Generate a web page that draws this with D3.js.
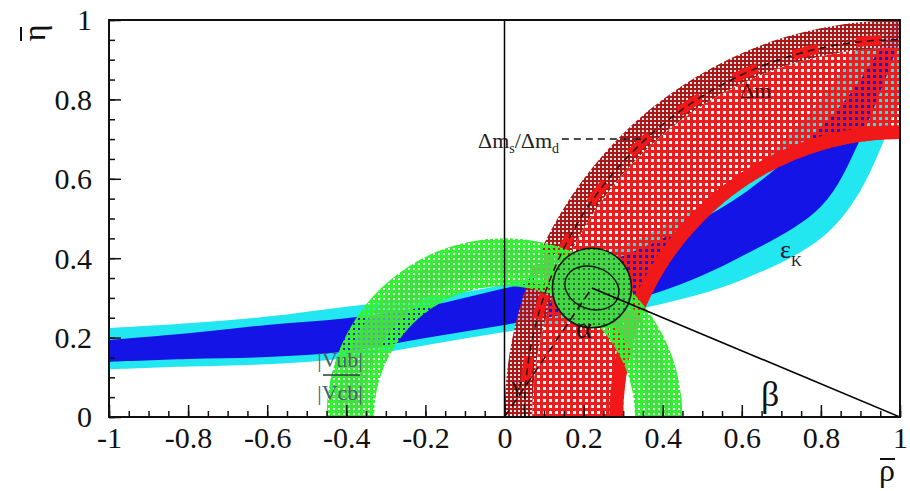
<!DOCTYPE html>
<html>
<head>
<meta charset="utf-8">
<style>
    body, html {
        margin: 0;
        padding: 0;
        background: #fff;
    }
    svg { display: block; }
    text { font-family: "Liberation Serif", "DejaVu Serif", serif; }
</style>
</head>
<body>
<svg width="910" height="491"></svg>

<script src="https://d3js.org/d3.v7.min.js"></script>
<script>
    // axis ticks
    var xTicks = [-1, -0.8, -0.6, -0.4, -0.2, 0, 0.2, 0.4, 0.6, 0.8, 1];
    var yTicks = [0, 0.2, 0.4, 0.6, 0.8, 1];

    // eps_K band (eta edges read along rho)
    var epsRho  = [-1,    -0.8,  -0.6,  -0.4,  -0.2,  0,     0.2,   0.4,   0.6,   0.8,   0.9,   1.0];
    var eps95Hi = [0.224, 0.236, 0.253, 0.278, 0.300, 0.334, 0.390, 0.480, 0.600, 0.800, 0.950, 1.100];
    var eps68Hi = [0.194, 0.211, 0.232, 0.249, 0.278, 0.324, 0.370, 0.450, 0.560, 0.730, 0.850, 1.020];
    var eps68Lo = [0.139, 0.146, 0.151, 0.165, 0.199, 0.232, 0.268, 0.318, 0.405, 0.530, 0.700, 0.950];
    var eps95Lo = [0.120, 0.127, 0.133, 0.148, 0.181, 0.214, 0.245, 0.285, 0.345, 0.450, 0.570, 0.800];

    // |Vub|/|Vcb| ring around (0,0)
    var vubCentre = [0, 0];
    var vub95 = [0.33, 0.45];
    var vub68 = [0.36, 0.425];

    // delta m_d ring around (1,0)
    var dmdCentre = [1, 0];
    var dmdBand  = [0.70, 0.93];
    var dmdOuter = [0.93, 1.00];
    var dmdEdge  = [0.70, 0.735];
    var dmsRadius = 0.95;
    var dmsLine = [0.145, 0.70];

    // fit result
    var apex = [0.221, 0.325];
    var cl95 = [0.100, 0.100];
    var cl68 = [0.070, 0.053];

    var svg = d3.select("svg");
    var x = d3.scaleLinear().domain([-1, 1]).range([109, 900]);
    var y = d3.scaleLinear().domain([0, 1]).range([417, 20]);

    var defs = svg.append("defs");
    defs.append("clipPath").attr("id", "plot")
        .append("rect").attr("x", 109).attr("y", 20).attr("width", 791).attr("height", 397);

    function checker(id, size, hole, fill, holeFill) {
        var p = defs.append("pattern").attr("id", id)
            .attr("patternUnits", "userSpaceOnUse")
            .attr("width", size).attr("height", size);
        p.append("path")
            .attr("d", "M0,0H" + size + "V" + (size - hole) + "H" + (size - hole) + "V" + size + "H0Z")
            .attr("fill", fill);
        if (holeFill) {
            p.append("rect").attr("x", size - hole).attr("y", size - hole)
                .attr("width", hole).attr("height", hole).attr("fill", holeFill);
        }
    }
    checker("redMain", 6, 3, "#ea1e1e");
    checker("redDark", 4, 2, "#a81a1a", "rgba(235,220,220,0.75)");
    checker("greenRing", 5, 2, "#36f036");
    checker("greenIn", 5, 2, "#40e040", "rgba(150,240,150,0.6)");
    checker("greenCl", 5, 2, "#44d644", "#2c6a3a");

    function ell(cx, cy, rx, ry) {
        return "M" + (cx - rx) + "," + cy +
            "A" + rx + "," + ry + " 0 1 0 " + (cx + rx) + "," + cy +
            "A" + rx + "," + ry + " 0 1 0 " + (cx - rx) + "," + cy + "Z";
    }
    function ring(c, r) {
        var cx = x(c[0]), cy = y(c[1]);
        return ell(cx, cy, x(r[1]) - x(0), y(0) - y(r[1])) +
            (r[0] > 0 ? ell(cx, cy, x(r[0]) - x(0), y(0) - y(r[0])) : "");
    }

    var g = svg.append("g").attr("clip-path", "url(#plot)");

    // EPS_K
    var band = function (lo, hi) {
        return d3.area()
            .x(function (d, i) { return x(epsRho[i]); })
            .y0(function (d, i) { return y(lo[i]); })
            .y1(function (d, i) { return y(hi[i]); })
            .curve(d3.curveCatmullRom)(epsRho);
    };
    g.append("path").attr("d", band(eps95Lo, eps95Hi)).attr("fill", "#22e6f0");
    g.append("path").attr("d", band(eps68Lo, eps68Hi)).attr("fill", "#1414e6");

    // DELTA M_D
    var dmdCx = x(dmdCentre[0]), dmdCy = y(dmdCentre[1]);
    g.append("path").attr("d", ring(dmdCentre, dmdBand)).attr("fill-rule", "evenodd").attr("fill", "url(#redMain)");
    g.append("path").attr("d", ring(dmdCentre, dmdOuter)).attr("fill-rule", "evenodd").attr("fill", "url(#redDark)");
    g.append("path").attr("d", ring(dmdCentre, dmdEdge)).attr("fill-rule", "evenodd").attr("fill", "#f01818");
    g.append("path").attr("d", ell(dmdCx, dmdCy, x(dmsRadius) - x(0), y(0) - y(dmsRadius)))
        .attr("fill", "none").attr("stroke", "#f01818").attr("stroke-width", 10)
        .attr("stroke-dasharray", "26 38");

    // |VUB|/|VCB|
    g.append("path").attr("d", ring(vubCentre, vub95)).attr("fill-rule", "evenodd").attr("fill", "url(#greenRing)");
    g.append("path").attr("d", ring(vubCentre, vub68)).attr("fill-rule", "evenodd").attr("fill", "url(#greenIn)");

    // FIT CONTOURS
    var ax = x(apex[0]), ay = y(apex[1]);
    g.append("path").attr("d", ell(ax, ay, x(cl95[0]) - x(0), y(0) - y(cl95[1])))
        .attr("fill", "url(#greenCl)").attr("stroke", "#0a1a0a").attr("stroke-width", 1.6);
    g.append("path").attr("d", ell(0, 0, x(cl68[0]) - x(0), y(0) - y(cl68[1])))
        .attr("transform", "translate(" + ax + "," + ay + ") rotate(20)")
        .attr("fill", "none").attr("stroke", "#0a1a0a").attr("stroke-width", 1.4);

    // DASHED LIMIT
    g.append("path").attr("d", ell(dmdCx, dmdCy, x(dmsRadius) - x(0), y(0) - y(dmsRadius)))
        .attr("fill", "none").attr("stroke", "#201010").attr("stroke-width", 1.5)
        .attr("stroke-dasharray", "7 5");
    var dmsEnd = dmdCentre[0] - Math.sqrt(dmsRadius * dmsRadius - dmsLine[1] * dmsLine[1]);
    g.append("line")
        .attr("x1", x(dmsLine[0])).attr("x2", x(dmsEnd))
        .attr("y1", y(dmsLine[1])).attr("y2", y(dmsLine[1]))
        .attr("stroke", "#111").attr("stroke-width", 1.5).attr("stroke-dasharray", "7 5");

    // TRIANGLE
    g.append("line").attr("x1", x(0)).attr("y1", y(0)).attr("x2", ax).attr("y2", ay)
        .attr("stroke", "#200").attr("stroke-width", 1.5).attr("stroke-dasharray", "8 5");
    g.append("line").attr("x1", ax).attr("y1", ay).attr("x2", x(1)).attr("y2", y(0))
        .attr("stroke", "#000").attr("stroke-width", 1.6);
    svg.append("line").attr("x1", x(0)).attr("x2", x(0)).attr("y1", y(0)).attr("y2", y(1))
        .attr("stroke", "#000").attr("stroke-width", 1.5);

    // AXES
    var minorX = d3.range(-1, 1.001, 0.05), minorY = d3.range(0, 1.001, 0.05);
    svg.append("g").attr("transform", "translate(0,417)")
        .call(d3.axisBottom(x).tickValues(minorX).tickSize(-6).tickFormat(""))
        .call(function (s) { s.select(".domain").remove(); });
    svg.append("g").attr("transform", "translate(109,0)")
        .call(d3.axisLeft(y).tickValues(minorY).tickSize(-6).tickFormat(""))
        .call(function (s) { s.select(".domain").remove(); });

    var xa = svg.append("g").attr("transform", "translate(0,417)")
        .call(d3.axisBottom(x).tickValues(xTicks).tickSize(-12).tickPadding(0)
            .tickFormat(function (d) { return String(d); }));
    xa.select(".domain").remove();
    xa.selectAll("text").attr("y", 31).attr("dy", 0).attr("font-size", 30)
        .attr("font-family", "Liberation Serif").attr("fill", "#111");

    var ya = svg.append("g").attr("transform", "translate(109,0)")
        .call(d3.axisLeft(y).tickValues(yTicks).tickSize(-12).tickPadding(17)
            .tickFormat(function (d) { return String(d); }));
    ya.select(".domain").remove();
    ya.selectAll("text").attr("font-size", 30).attr("font-family", "Liberation Serif")
        .attr("dy", "0.33em").attr("fill", "#111");
    svg.selectAll(".tick line").attr("stroke", "#111").attr("stroke-width", 1.5);

    svg.append("rect").attr("x", 109).attr("y", 20).attr("width", 791).attr("height", 397)
        .attr("fill", "none").attr("stroke", "#111").attr("stroke-width", 2);

    // AXIS TITLES (bar drawn as a short stroke)
    svg.append("text").attr("transform", "translate(45,33) rotate(-90)")
        .attr("text-anchor", "middle").attr("font-size", 32).attr("fill", "#111").text("η");
    svg.append("line").attr("x1", 21).attr("x2", 21).attr("y1", 27).attr("y2", 41)
        .attr("stroke", "#111").attr("stroke-width", 2);
    svg.append("text").attr("x", 887).attr("y", 481)
        .attr("text-anchor", "middle").attr("font-size", 32).attr("fill", "#111").text("ρ");
    svg.append("line").attr("x1", 880).attr("x2", 895).attr("y1", 459).attr("y2", 459)
        .attr("stroke", "#111").attr("stroke-width", 2);

    // LABELS
    var lab = svg.append("g").attr("fill", "#222");
    var t1 = lab.append("text").attr("x", 478).attr("y", 148).attr("font-size", 22);
    t1.append("tspan").text("Δm");
    t1.append("tspan").attr("font-size", 14).attr("dy", 5).text("s");
    t1.append("tspan").attr("dy", -5).text("/Δm");
    t1.append("tspan").attr("font-size", 14).attr("dy", 5).text("d");

    lab.append("text").attr("x", 740).attr("y", 98).attr("font-size", 22)
        .attr("fill", "#4a0c0c").text("Δm");

    var t2 = lab.append("text").attr("x", 780).attr("y", 258).attr("font-size", 26).attr("fill", "#101030");
    t2.append("tspan").text("ε");
    t2.append("tspan").attr("font-size", 15).attr("dy", 8).text("K");

    lab.append("text").attr("x", 576).attr("y", 338).attr("font-size", 30).attr("fill", "#2a0505").text("α");
    lab.append("text").attr("x", 761).attr("y", 406).attr("font-size", 36).attr("fill", "#111").text("β");
    lab.append("text").attr("x", 512).attr("y", 392).attr("font-size", 22).attr("fill", "#2a0505").text("γ");

    var vub = lab.append("g").attr("fill", "#4e5a78").attr("font-size", 22);
    vub.append("text").attr("x", 340).attr("y", 367).attr("text-anchor", "middle").text("|Vub|");
    vub.append("line").attr("x1", 323).attr("x2", 360).attr("y1", 375).attr("y2", 375)
        .attr("stroke", "#2a3a3a").attr("stroke-width", 1.6);
    vub.append("text").attr("x", 340).attr("y", 400).attr("text-anchor", "middle").text("|Vcb|");
</script>
</body>
</html>
